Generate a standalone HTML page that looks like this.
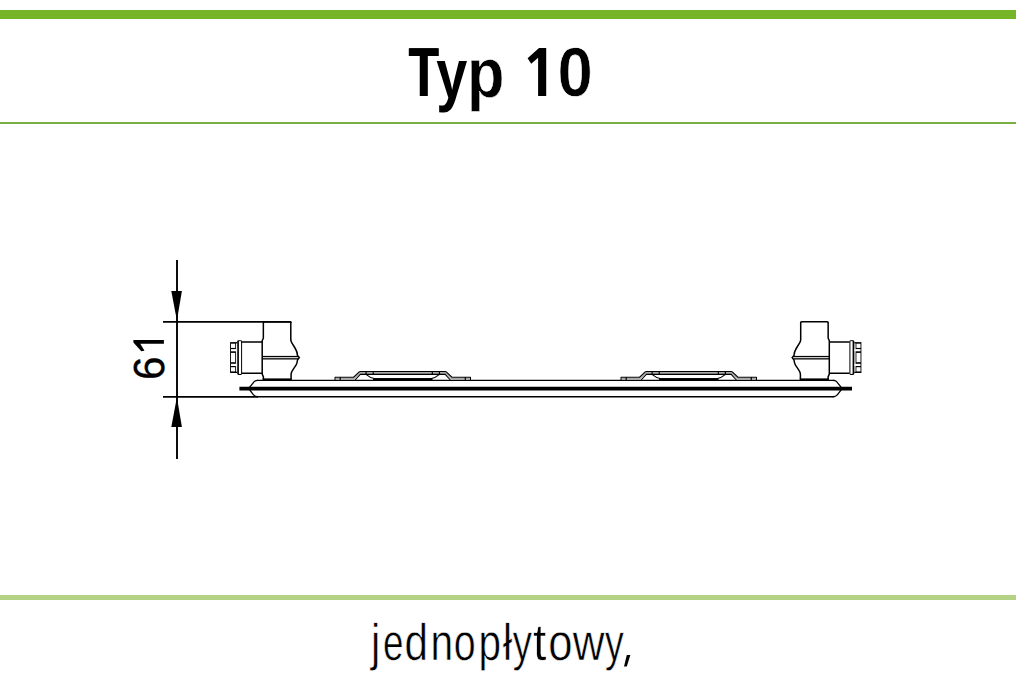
<!DOCTYPE html>
<html><head><meta charset="utf-8"><style>
html,body{margin:0;padding:0;background:#fff;}
body{width:1016px;height:684px;overflow:hidden;position:relative;}
svg{position:absolute;left:0;top:0;display:block;}
text{font-family:"Liberation Sans",sans-serif;text-rendering:geometricPrecision;}
</style></head><body>
<svg width="1016" height="684" viewBox="0 0 1016 684">
<rect x="0" y="0" width="1016" height="684" fill="#fff"/>
<!-- green rules -->
<rect x="0" y="10" width="1016" height="9" fill="#76b528"/>
<rect x="0" y="122" width="1016" height="2" fill="#79ae42"/>
<rect x="0" y="595" width="1016" height="5" fill="#b5d183"/>

<!-- title -->
<g fill="#000">
<text transform="translate(408.35,95.80) scale(0.7076,1)" font-size="69.6" font-weight="bold">T</text>
<text transform="translate(409.35,95.80) scale(0.7076,1)" font-size="69.6" font-weight="bold">T</text>
<text transform="translate(436.26,97.97) scale(0.8018,1.01)" font-size="69.6" font-weight="bold">y</text>
<text transform="translate(467.01,97.25) scale(0.8810,1)" font-size="69.6" font-weight="bold" stroke="#fff" stroke-width="0.5">p</text>
<text transform="translate(557.44,95.80) scale(0.9124,1)" font-size="69.6" font-weight="bold" stroke="#fff" stroke-width="0.7">0</text>
<path d="M539,48.1 H546.2 V95.9 H538.1 V57.7 L531.2,63.8 L527.6,58.3 Z"/>
</g>
<g fill="#000" stroke="#fff" stroke-width="0.6">
<text transform="translate(370.92,659.90) scale(0.8127,1)" font-size="51.5">j</text>
<text transform="translate(382.93,659.90) scale(0.7159,1)" font-size="51.5">e</text>
<text transform="translate(404.43,659.90) scale(0.8204,1)" font-size="51.5">d</text>
<text transform="translate(430.50,659.90) scale(0.7908,1)" font-size="51.5">n</text>
<text transform="translate(453.65,659.90) scale(0.7649,1)" font-size="51.5">o</text>
<text transform="translate(478.39,659.90) scale(0.7858,1)" font-size="51.5">p</text>
<text transform="translate(502.77,659.90) scale(0.8308,1)" font-size="51.5">ł</text>
<text transform="translate(512.81,659.90) scale(0.7444,1)" font-size="51.5">y</text>
<text transform="translate(533.07,659.90) scale(0.9429,1)" font-size="51.5">t</text>
<text transform="translate(548.17,659.90) scale(0.8472,1)" font-size="51.5">o</text>
<text transform="translate(572.86,659.90) scale(0.8531,1)" font-size="51.5">w</text>
<text transform="translate(605.11,659.90) scale(0.7248,1)" font-size="51.5">y</text>
<polygon points="626.8,655 630.4,655 626.8,666.6 624,666.6" stroke="none"/>
</g>

<!-- dimension -->
<g fill="none" stroke="#000" stroke-width="1.9">
  <line x1="177" y1="260" x2="177" y2="459"/>
  <path d="M163,321.9 H290.2 Q290.9,321.9 290.9,322.6"/>
  <line x1="163" y1="396.9" x2="258" y2="396.9"/>
</g>
<polygon points="171.3,291 181.9,291 176.9,320.6" fill="#000"/>
<polygon points="171.3,427 181.9,427 176.9,397.3" fill="#000"/>
<text transform="translate(163.58,380.05) rotate(-90) scale(0.9746,1)" font-size="43.36" fill="#000" stroke="#000" stroke-width="0.35">6</text>
<path d="M133.4,340.1 H163.9 V343.8 H140.3 L144.5,350.7 L141.3,351.2 L133.4,342.6 Z" fill="#000"/>

<!-- panel -->
<g fill="none" stroke="#000">
  <line x1="257" y1="380.4" x2="834.5" y2="380.4" stroke-width="1.3"/>
  <line x1="257" y1="396.7" x2="834.5" y2="396.7" stroke-width="1.4"/>
  <line x1="239.4" y1="388.6" x2="852" y2="388.6" stroke-width="3.6"/>
</g>

<!-- panel ends -->
<path d="M258,380.4 C256.2,380.4 255.2,380.8 254.2,381.6 L248.6,388.5 L253.3,394.6 C254.3,395.9 255.8,396.7 258,396.7" fill="none" stroke="#000" stroke-width="1.3"/>
<path d="M832.8,380.4 C834.6,380.4 835.6,380.8 836.6,381.6 L842.2,388.5 L837.5,394.6 C836.5,395.9 835,396.7 832.8,396.7" fill="none" stroke="#000" stroke-width="1.3"/>
<g id="half">
  <!-- valve body -->
  <g fill="none" stroke="#000" stroke-width="1.5">
    <path d="M263.35,323 Q263.35,321.85 264.3,321.85 H290 Q290.8,321.85 290.8,323" stroke-width="1.5"/>
    <path d="M263.35,322.5 V338.2 L262.2,340.6 V374 L263.4,376.9 V379"/>
    <path d="M290.8,322.3 V339.9 C290.9,341 291.2,341.8 291.7,342.6 L295.3,348.5 C296.6,350.7 297.4,353 297.5,355.5 L299.3,357.6 L297.5,360 C297.3,362 296.8,363.6 296,365.2 L293,369.6 C291.6,371.6 291.1,372.6 291.1,374 V379"/>
    <line x1="262.5" y1="379.25" x2="291.8" y2="379.25" stroke-width="1.7"/>
    <!-- nut -->
    <path d="M262.2,342.1 H242 M242,373.3 H262.2" stroke-width="1.5"/>
  </g>
  <rect x="262.5" y="355.9" width="35.5" height="1.3" fill="#000"/>
  <rect x="262.5" y="358.2" width="35.5" height="1.3" fill="#000"/>
  <!-- flange -->
  <rect x="237.2" y="340.2" width="4.9" height="34.7" rx="1.3" fill="#000"/>
  <rect x="238.9" y="341.2" width="2.2" height="32.7" fill="#fff"/>
  <!-- cap -->
  <rect x="230.1" y="342.1" width="7.1" height="30.9" fill="#000"/>
  <g fill="#fff">
    <rect x="231" y="343.7" width="4.1" height="4.2"/>
    <rect x="231" y="349.1" width="6.1" height="2.2"/>
    <rect x="231" y="352.9" width="4.1" height="9.3"/>
    <rect x="231" y="363.8" width="6.1" height="2.2"/>
    <rect x="231" y="367.2" width="4.1" height="4.2"/>
    <rect x="235.9" y="343.4" width="1.2" height="28.3" fill="#eee"/>
  </g>
  <!-- bracket -->
  <g fill="none" stroke-linejoin="round">
    <path d="M335.8,378.8 H353.3 L359.6,372.8 H445.9 L452.2,378.8 H469.7" stroke="#a8a8a8" stroke-width="2.2"/>
    <path d="M335.05,380 V377.2 H353.6 L359.2,371.8 Q359.6,371.45 360.2,371.45 H445.3 Q445.9,371.45 446.3,371.8 L451.9,377.2 H470.45 V380" stroke="#000" stroke-width="1.1"/>
    <path d="M355.1,380 L360.3,374.4 H445.2 L450.4,380" stroke="#000" stroke-width="1.1"/>
    <path d="M366.2,374.6 C368.5,376.6 370.5,378.4 375,378.7 H430.5 C435,378.4 437,376.6 439.3,374.6" stroke="#000" stroke-width="1.1"/>
    <rect x="373" y="378.2" width="59.5" height="2.4" fill="#000" stroke="none"/>
    <g stroke="#000" stroke-width="1.2">
      <line x1="340.2" y1="377" x2="340.2" y2="380"/>
      <line x1="366.1" y1="371.3" x2="366.1" y2="374.4"/>
      <line x1="373.2" y1="371.3" x2="373.2" y2="374.4"/>
      <line x1="432.3" y1="371.3" x2="432.3" y2="374.4"/>
      <line x1="439.4" y1="371.3" x2="439.4" y2="374.4"/>
      <line x1="465.3" y1="377" x2="465.3" y2="380"/>
    </g>
  </g>
</g>
<use href="#half" transform="translate(1091.5,0) scale(-1,1)"/>
</svg>
</body></html>
